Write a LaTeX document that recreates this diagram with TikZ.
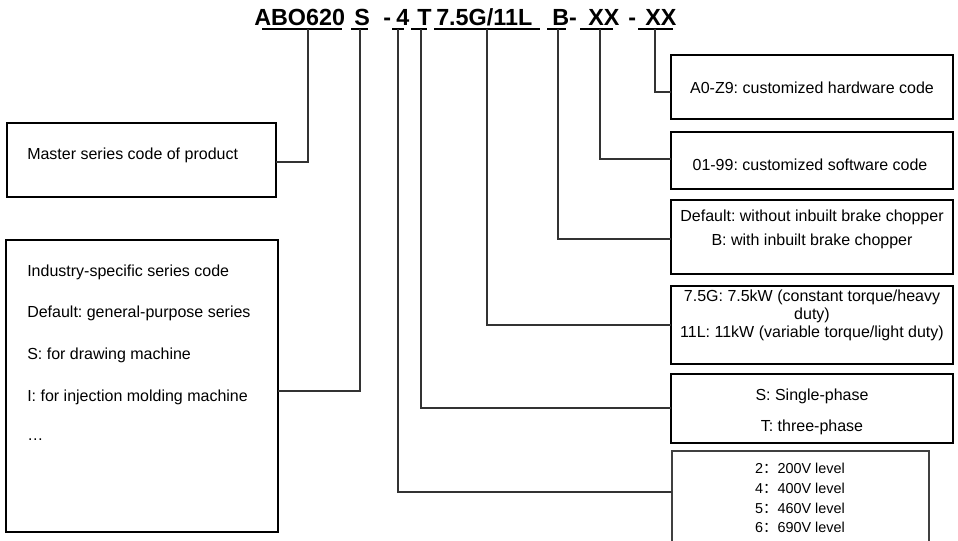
\documentclass[tikz,border=0pt]{standalone}
\usepackage{fontspec}
\setmainfont{Liberation Sans}
\newfontfamily\cjk{Noto Sans CJK SC}
\usetikzlibrary{fit}
\frenchspacing
\begin{document}
\frenchspacing
\begin{tikzpicture}[x=0.75pt,y=-0.75pt,
  bx/.style={draw=black, line width=1.5pt, inner sep=0pt},
  thinbx/.style={draw=black!75, line width=0.8pt, inner sep=0pt},
  conn/.style={draw=black!80, line width=0.9pt},
  uline/.style={draw=black, line width=1.3pt},
  ttl/.style={anchor=base west, inner sep=0pt, font=\fontsize{17.5}{20}\selectfont\bfseries},
  txt/.style={inner sep=0pt, font=\fontsize{12}{14}\selectfont},
  small/.style={inner sep=0pt, font=\fontsize{10.8}{13}\selectfont}]
\useasboundingbox (0,0) rectangle (958,540);
\clip (0,0) rectangle (958,540);
\fill[white] (0,0) rectangle (958,540);

% ---- title code ----
\node[ttl] (t1) at (254,25) {ABO620};
\node[ttl] (t2) at (354,25) {S};
\node[ttl] (t3) at (383,25) {-};
\node[ttl] (t4) at (396,25) {4};
\node[ttl] (t5) at (417,25) {T};
\node[ttl] (t6) at (436,25) {7.5G/11L};
\node[ttl] (t7) at (552,25) {B-};
\node[ttl] (t8) at (588,25) {XX};
\node[ttl] (t9) at (628,25) {-};
\node[ttl] (t10) at (645,25) {XX};

% underlines
\draw[uline] (262,29) -- (342,29);
\draw[uline] (351,29) -- (368,29);
\draw[uline] (392,29) -- (404,29);
\draw[uline] (411,29) -- (427,29);
\draw[uline] (434,29) -- (540,29);
\draw[uline] (547,29) -- (566,29);
\draw[uline] (580,29) -- (613,29);
\draw[uline] (638,29) -- (673,29);

% connector start points
\coordinate (c1) at (308,29);
\coordinate (c2) at (360,29);
\coordinate (c3) at (398,29);
\coordinate (c4) at (421,29);
\coordinate (c5) at (487,29);
\coordinate (c6) at (558,29);
\coordinate (c7) at (600,29);
\coordinate (c8) at (655,29);

% ---- boxes ----
\node[bx, fit={(671,55)(953,119)}] (hw) {};
\node[bx, fit={(671,132)(953,189)}] (sw) {};
\node[bx, fit={(671,200)(953,274)}] (brake) {};
\node[bx, fit={(671,286)(953,364)}] (power) {};
\node[bx, fit={(671,374)(953,443)}] (phase) {};
\node[thinbx, fit={(672,451)(929,560)}] (volt) {};
\node[bx, fit={(7,123)(276,197)}] (master) {};
\node[bx, fit={(6,240)(278,532)}] (industry) {};

% ---- texts ----
\node[txt] (hwt) at (812,88) {A0-Z9: customized hardware code};
\node[txt] (swt) at (810,165) {01-99: customized software code};
\node[txt] (br1) at (812,217) {Default: without inbuilt brake chopper};
\node[txt] (br2) at (812,241) {B: with inbuilt brake chopper};
\node[txt, anchor=base] (pw1) at (812,301) {7.5G: 7.5kW (constant torque/heavy};
\node[txt, anchor=base] (pw2) at (812,319) {duty)};
\node[txt, anchor=base] (pw3) at (812,337) {11L: 11kW (variable torque/light duty)};
\node[txt] (ph1) at (812,396) {S: Single-phase};
\node[txt] (ph2) at (812,427) {T: three-phase};
\node[small] (v1) at (800,468) {2{\cjk ：}200V level};
\node[small] (v2) at (800,488) {4{\cjk ：}400V level};
\node[small] (v3) at (800,508) {5{\cjk ：}460V level};
\node[small] (v4) at (800,527) {6{\cjk ：}690V level};
\node[txt, anchor=west] (mt) at (27,155) {Master series code of product};
\node[txt, anchor=west] (in1) at (27,272) {Industry-specific series code};
\node[txt, anchor=west] (in2) at (27,313) {Default: general-purpose series};
\node[txt, anchor=west] (in3) at (27,355) {S: for drawing machine};
\node[txt, anchor=west] (in4) at (27,397) {I: for injection molding machine};
\node[txt, anchor=west] (in5) at (27,440) {\dots};

% ---- connector end points on boxes ----
\coordinate (e1) at (276,162);
\coordinate (e2) at (278,391);
\coordinate (e3) at (672,492);
\coordinate (e4) at (671,408);
\coordinate (e5) at (671,325);
\coordinate (e6) at (671,239);
\coordinate (e7) at (671,159);
\coordinate (e8) at (671,92);

\draw[conn] (c1) |- (e1);
\draw[conn] (c2) |- (e2);
\draw[conn] (c3) |- (e3);
\draw[conn] (c4) |- (e4);
\draw[conn] (c5) |- (e5);
\draw[conn] (c6) |- (e6);
\draw[conn] (c7) |- (e7);
\draw[conn] (c8) |- (e8);
\end{tikzpicture}
\end{document}
